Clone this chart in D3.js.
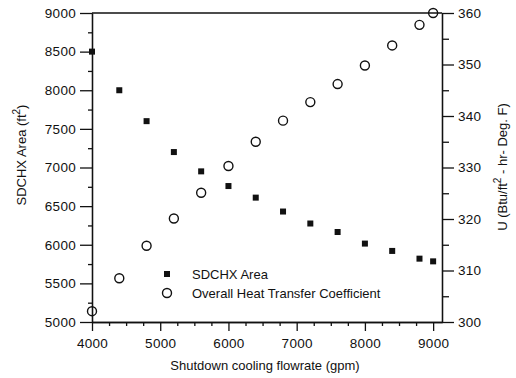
<!DOCTYPE html>
<html>
<head>
<meta charset="utf-8">
<script src="https://cdn.jsdelivr.net/npm/d3@7"></script>
<style>
  body { margin: 0; background: #fff; }
  svg text { font-family: "Liberation Sans", Arial, sans-serif; fill: #111; }
  .axis path, .axis line { stroke: #111; stroke-width: 1.3px; }
</style>
</head>
<body>
<div class="chart"></div>
<script>
// shutdown cooling flowrate vs SDCHX area and U

var flowrate = [4000, 4400, 4800, 5200, 5600, 6000, 6400, 6800, 7200, 7600, 8000, 8400, 8800, 9000]
var area = [8500, 8000, 7600, 7200, 6950, 6760, 6610, 6430, 6275, 6165, 6015, 5920, 5820, 5785]
var uCoef = [302.1, 308.5, 314.8, 320.1, 325.1, 330.3, 335.0, 339.1, 342.7, 346.2, 349.8, 353.7, 357.7, 360]

var xTicks = [4000, 5000, 6000, 7000, 8000, 9000]
var yLeftTicks = [5000, 5500, 6000, 6500, 7000, 7500, 8000, 8500, 9000]
var yRightTicks = [300, 310, 320, 330, 340, 350, 360]
var legendLabels = ["SDCHX Area", "Overall Heat Transfer Coefficient"]

var width = 516, height = 378
var plot = {left: 92, right: 442, top: 13, bottom: 322}

var svg = d3.select(".chart").append("svg")
  .attr("width", width)
  .attr("height", height)

var x = d3.scaleLinear().domain([4000, 9130]).range([plot.left, plot.right])
var yL = d3.scaleLinear().domain([5000, 9000]).range([plot.bottom, plot.top])
var yR = d3.scaleLinear().domain([300, 360]).range([plot.bottom, plot.top])

var fmt = d3.format("d")

var minorX = d3.range(4250, 9001, 250).filter(function(d) { return d % 1000 != 0; })
var minorYL = d3.range(5250, 9000, 500)
var minorYR = d3.range(305, 360, 10)

// minor ticks first
svg.append("g").attr("class", "axis")
  .attr("transform", "translate(0," + plot.bottom + ")")
  .call(d3.axisBottom(x).tickValues(minorX).tickSize(4).tickSizeOuter(0).tickFormat(""))
svg.append("g").attr("class", "axis")
  .attr("transform", "translate(" + plot.left + ",0)")
  .call(d3.axisLeft(yL).tickValues(minorYL).tickSize(4).tickSizeOuter(0).tickFormat(""))
svg.append("g").attr("class", "axis")
  .attr("transform", "translate(" + plot.right + ",0)")
  .call(d3.axisRight(yR).tickValues(minorYR).tickSize(7).tickSizeOuter(0).tickFormat(""))

svg.append("g").attr("class", "axis")
  .attr("transform", "translate(0," + plot.bottom + ")")
  .call(d3.axisBottom(x).tickValues(xTicks).tickFormat(fmt).tickSize(9).tickSizeOuter(0).tickPadding(7))
svg.append("g").attr("class", "axis")
  .attr("transform", "translate(" + plot.left + ",0)")
  .call(d3.axisLeft(yL).tickValues(yLeftTicks).tickFormat(fmt).tickSize(12).tickSizeOuter(0).tickPadding(4))
svg.append("g").attr("class", "axis")
  .attr("transform", "translate(" + plot.right + ",0)")
  .call(d3.axisRight(yR).tickValues(yRightTicks).tickFormat(fmt).tickSize(12).tickSizeOuter(0).tickPadding(4))

svg.selectAll(".axis text")
  .style("font-size", "13.5px")
  .style("letter-spacing", "0.3px")
  .attr("fill", "#111")

// top frame line
svg.append("line")
  .attr("x1", plot.left).attr("x2", plot.right)
  .attr("y1", plot.top).attr("y2", plot.top)
  .attr("stroke", "#111").attr("stroke-width", 1.3)

// axis titles
svg.append("text")
  .attr("x", (plot.left + plot.right) / 2 - 2)
  .attr("y", 370)
  .attr("text-anchor", "middle")
  .style("font-size", "13px")
  .text("Shutdown cooling flowrate (gpm)")

var tl = svg.append("text")
  .attr("transform", "translate(26,155)rotate(-90)")
  .attr("text-anchor", "middle")
  .style("font-size", "13px")
tl.append("tspan").text("SDCHX Area (ft")
tl.append("tspan").attr("dy", -6).style("font-size", "10px").text("2")
tl.append("tspan").attr("dy", 6).text(")")

var tr = svg.append("text")
  .attr("transform", "translate(507,167)rotate(-90)")
  .attr("text-anchor", "middle")
  .style("font-size", "13px")
tr.append("tspan").text("U (Btu/ft")
tr.append("tspan").attr("dy", -6).style("font-size", "10px").text("2")
tr.append("tspan").attr("dy", 6).text(" - hr- Deg. F)")

// SDCHX area squares
var sq = 6
svg.append("g").selectAll("rect")
  .data(flowrate)
  .enter()
    .append("rect")
    .attr("x", function(d) { return x(d) - sq / 2; })
    .attr("y", function(d, i) { return yL(area[i]) - sq / 2; })
    .attr("width", sq)
    .attr("height", sq)
    .attr("fill", "#111")

// U circles
svg.append("g").selectAll("circle")
  .data(flowrate)
  .enter()
    .append("circle")
    .attr("cx", function(d) { return x(d); })
    .attr("cy", function(d, i) { return yR(uCoef[i]); })
    .attr("r", 4.5)
    .attr("fill", "none")
    .attr("stroke", "#111")
    .attr("stroke-width", 1.4)

// legend
var legend = svg.append("g").attr("transform", "translate(167,274)")
legend.append("rect")
  .attr("x", -sq / 2).attr("y", -sq / 2)
  .attr("width", sq).attr("height", sq)
  .attr("fill", "#111")
legend.append("circle")
  .attr("cx", 0).attr("cy", 19).attr("r", 4.5)
  .attr("fill", "none").attr("stroke", "#111").attr("stroke-width", 1.4)
legend.selectAll("text")
  .data(legendLabels)
  .enter()
    .append("text")
    .attr("x", 25)
    .attr("y", function(d, i) { return i * 19 + 5; })
    .style("font-size", "13px")
    .text(function(d) { return d; })
</script>
</body>
</html>
